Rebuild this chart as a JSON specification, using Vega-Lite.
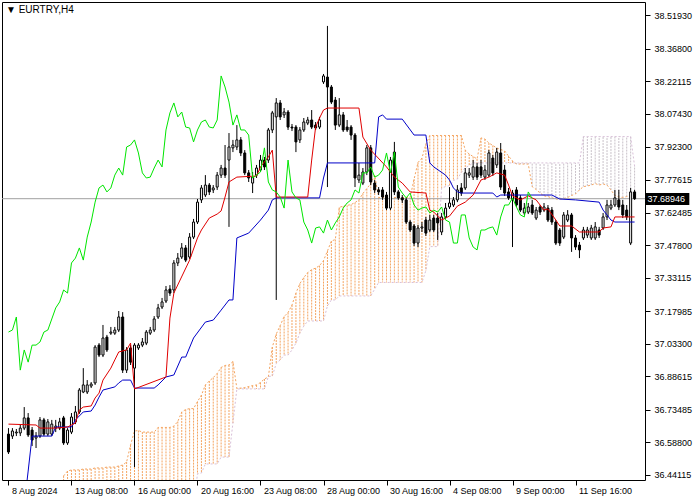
{
"$schema":"https://vega.github.io/schema/vega-lite/v6.json",
"width":643,"height":478,
"autosize":{"type":"none"},
"padding":{"left":2,"top":2,"right":55,"bottom":20},
"background":"white",
"config":{"view":{"stroke":"black","strokeWidth":1},"axis":{"labelFont":"Liberation Sans","labelFontSize":9,"labelColor":"black","tickColor":"black","grid":false,"domain":false}},
"title":{"text":"▼ EURTRY,H4","anchor":"start","frame":"group","orient":"top","offset":-13,"dx":4,"font":"Liberation Sans","fontSize":10,"fontWeight":"normal","color":"black"},
"resolve":{"axis":{"x":"independent","y":"independent"}},
"datasets":{
"bars":[
{"i":0,"o":36.626,"h":36.653,"l":36.536,"c":36.545},
{"i":1,"o":36.617,"h":36.653,"l":36.604,"c":36.640},
{"i":2,"o":36.631,"h":36.649,"l":36.617,"c":36.635},
{"i":3,"o":36.631,"h":36.667,"l":36.617,"c":36.653},
{"i":4,"o":36.653,"h":36.748,"l":36.644,"c":36.699},
{"i":5,"o":36.699,"h":36.721,"l":36.613,"c":36.622},
{"i":6,"o":36.644,"h":36.658,"l":36.572,"c":36.599},
{"i":7,"o":36.608,"h":36.635,"l":36.563,"c":36.617},
{"i":8,"o":36.617,"h":36.703,"l":36.608,"c":36.690},
{"i":9,"o":36.690,"h":36.699,"l":36.617,"c":36.626},
{"i":10,"o":36.626,"h":36.694,"l":36.617,"c":36.681},
{"i":11,"o":36.626,"h":36.690,"l":36.617,"c":36.671},
{"i":12,"o":36.653,"h":36.690,"l":36.635,"c":36.662},
{"i":13,"o":36.653,"h":36.699,"l":36.644,"c":36.681},
{"i":14,"o":36.699,"h":36.708,"l":36.577,"c":36.586},
{"i":15,"o":36.586,"h":36.653,"l":36.577,"c":36.644},
{"i":16,"o":36.635,"h":36.721,"l":36.626,"c":36.703},
{"i":17,"o":36.681,"h":36.753,"l":36.671,"c":36.726},
{"i":18,"o":36.726,"h":36.834,"l":36.717,"c":36.825},
{"i":19,"o":36.816,"h":36.924,"l":36.811,"c":36.848},
{"i":20,"o":36.816,"h":36.870,"l":36.807,"c":36.848},
{"i":21,"o":36.843,"h":36.861,"l":36.834,"c":36.852},
{"i":22,"o":36.857,"h":37.028,"l":36.848,"c":37.019},
{"i":23,"o":37.028,"h":37.037,"l":36.974,"c":36.983},
{"i":24,"o":36.983,"h":37.119,"l":36.974,"c":37.060},
{"i":25,"o":37.064,"h":37.074,"l":36.997,"c":37.006},
{"i":26,"o":37.082,"h":37.110,"l":37.074,"c":37.087},
{"i":27,"o":37.082,"h":37.110,"l":37.074,"c":37.096},
{"i":28,"o":37.096,"h":37.182,"l":37.087,"c":37.155},
{"i":29,"o":37.155,"h":37.177,"l":36.902,"c":36.915},
{"i":30,"o":36.915,"h":37.019,"l":36.902,"c":37.006},
{"i":31,"o":37.015,"h":37.028,"l":36.938,"c":36.951},
{"i":32,"o":36.924,"h":37.037,"l":36.477,"c":37.028},
{"i":33,"o":37.015,"h":37.037,"l":37.006,"c":37.028},
{"i":34,"o":37.028,"h":37.060,"l":37.019,"c":37.042},
{"i":35,"o":37.037,"h":37.096,"l":37.028,"c":37.087},
{"i":36,"o":37.082,"h":37.110,"l":37.074,"c":37.096},
{"i":37,"o":37.096,"h":37.159,"l":37.087,"c":37.146},
{"i":38,"o":37.155,"h":37.214,"l":37.146,"c":37.196},
{"i":39,"o":37.200,"h":37.241,"l":37.191,"c":37.223},
{"i":40,"o":37.227,"h":37.295,"l":37.218,"c":37.277},
{"i":41,"o":37.281,"h":37.299,"l":37.250,"c":37.263},
{"i":42,"o":37.277,"h":37.412,"l":37.263,"c":37.399},
{"i":43,"o":37.399,"h":37.444,"l":37.385,"c":37.421},
{"i":44,"o":37.426,"h":37.489,"l":37.417,"c":37.467},
{"i":45,"o":37.467,"h":37.480,"l":37.403,"c":37.412},
{"i":46,"o":37.426,"h":37.534,"l":37.417,"c":37.516},
{"i":47,"o":37.516,"h":37.598,"l":37.507,"c":37.584},
{"i":48,"o":37.584,"h":37.688,"l":37.575,"c":37.674},
{"i":49,"o":37.684,"h":37.751,"l":37.670,"c":37.738},
{"i":50,"o":37.706,"h":37.796,"l":37.697,"c":37.751},
{"i":51,"o":37.751,"h":37.760,"l":37.706,"c":37.720},
{"i":52,"o":37.729,"h":37.751,"l":37.715,"c":37.738},
{"i":53,"o":37.742,"h":37.810,"l":37.729,"c":37.796},
{"i":54,"o":37.796,"h":37.842,"l":37.783,"c":37.828},
{"i":55,"o":37.828,"h":37.932,"l":37.783,"c":37.796},
{"i":56,"o":37.864,"h":37.986,"l":37.562,"c":37.923},
{"i":57,"o":37.919,"h":37.955,"l":37.900,"c":37.932},
{"i":58,"o":37.923,"h":38.022,"l":37.909,"c":37.955},
{"i":59,"o":37.955,"h":37.968,"l":37.882,"c":37.896},
{"i":60,"o":37.896,"h":37.909,"l":37.796,"c":37.806},
{"i":61,"o":37.806,"h":37.819,"l":37.765,"c":37.783},
{"i":62,"o":37.760,"h":37.810,"l":37.715,"c":37.787},
{"i":63,"o":37.796,"h":37.842,"l":37.783,"c":37.828},
{"i":64,"o":37.819,"h":37.887,"l":37.810,"c":37.864},
{"i":65,"o":37.864,"h":37.878,"l":37.819,"c":37.833},
{"i":66,"o":37.864,"h":38.009,"l":37.851,"c":38.000},
{"i":67,"o":38.000,"h":38.086,"l":37.986,"c":38.077},
{"i":68,"o":38.059,"h":38.144,"l":37.232,"c":38.122},
{"i":69,"o":38.122,"h":38.135,"l":38.045,"c":38.059},
{"i":70,"o":38.068,"h":38.099,"l":38.054,"c":38.081},
{"i":71,"o":38.081,"h":38.090,"l":38.000,"c":38.013},
{"i":72,"o":38.013,"h":38.027,"l":37.995,"c":38.009},
{"i":73,"o":38.013,"h":38.022,"l":37.900,"c":37.946},
{"i":74,"o":37.955,"h":38.013,"l":37.941,"c":38.000},
{"i":75,"o":38.000,"h":38.054,"l":37.991,"c":38.036},
{"i":76,"o":38.031,"h":38.059,"l":38.022,"c":38.045},
{"i":77,"o":38.045,"h":38.090,"l":38.004,"c":38.013},
{"i":78,"o":38.022,"h":38.036,"l":38.000,"c":38.009},
{"i":79,"o":38.013,"h":38.059,"l":38.004,"c":38.045},
{"i":80,"o":38.217,"h":38.253,"l":38.208,"c":38.244},
{"i":81,"o":38.239,"h":38.470,"l":37.742,"c":38.194},
{"i":82,"o":38.194,"h":38.203,"l":38.117,"c":38.126},
{"i":83,"o":38.135,"h":38.149,"l":38.000,"c":38.022},
{"i":84,"o":38.022,"h":38.144,"l":38.013,"c":38.068},
{"i":85,"o":38.068,"h":38.081,"l":37.991,"c":38.000},
{"i":86,"o":38.013,"h":38.045,"l":37.991,"c":38.000},
{"i":87,"o":38.013,"h":38.022,"l":37.955,"c":37.977},
{"i":88,"o":37.977,"h":37.986,"l":37.742,"c":37.783},
{"i":89,"o":37.774,"h":37.851,"l":37.760,"c":37.796},
{"i":90,"o":37.760,"h":37.828,"l":37.751,"c":37.810},
{"i":91,"o":37.810,"h":37.932,"l":37.796,"c":37.919},
{"i":92,"o":37.919,"h":37.932,"l":37.751,"c":37.765},
{"i":93,"o":37.760,"h":37.774,"l":37.715,"c":37.729},
{"i":94,"o":37.729,"h":37.742,"l":37.706,"c":37.720},
{"i":95,"o":37.729,"h":37.742,"l":37.684,"c":37.697},
{"i":96,"o":37.706,"h":37.720,"l":37.638,"c":37.647},
{"i":97,"o":37.647,"h":37.878,"l":37.638,"c":37.864},
{"i":98,"o":37.900,"h":37.946,"l":37.706,"c":37.720},
{"i":99,"o":37.720,"h":37.729,"l":37.684,"c":37.693},
{"i":100,"o":37.693,"h":37.706,"l":37.670,"c":37.684},
{"i":101,"o":37.684,"h":37.693,"l":37.575,"c":37.584},
{"i":102,"o":37.584,"h":37.593,"l":37.539,"c":37.548},
{"i":103,"o":37.566,"h":37.575,"l":37.476,"c":37.489},
{"i":104,"o":37.489,"h":37.571,"l":37.471,"c":37.557},
{"i":105,"o":37.557,"h":37.584,"l":37.539,"c":37.562},
{"i":106,"o":37.593,"h":37.607,"l":37.521,"c":37.534},
{"i":107,"o":37.548,"h":37.616,"l":37.539,"c":37.593},
{"i":108,"o":37.602,"h":37.616,"l":37.539,"c":37.548},
{"i":109,"o":37.602,"h":37.625,"l":37.503,"c":37.580},
{"i":110,"o":37.539,"h":37.625,"l":37.525,"c":37.607},
{"i":111,"o":37.607,"h":37.670,"l":37.598,"c":37.647},
{"i":112,"o":37.652,"h":37.742,"l":37.643,"c":37.670},
{"i":113,"o":37.661,"h":37.697,"l":37.652,"c":37.684},
{"i":114,"o":37.684,"h":37.751,"l":37.674,"c":37.729},
{"i":115,"o":37.738,"h":37.760,"l":37.702,"c":37.715},
{"i":116,"o":37.738,"h":37.828,"l":37.729,"c":37.806},
{"i":117,"o":37.796,"h":37.828,"l":37.783,"c":37.806},
{"i":118,"o":37.787,"h":37.864,"l":37.774,"c":37.833},
{"i":119,"o":37.833,"h":37.851,"l":37.774,"c":37.787},
{"i":120,"o":37.833,"h":37.864,"l":37.783,"c":37.796},
{"i":121,"o":37.787,"h":37.842,"l":37.774,"c":37.819},
{"i":122,"o":37.796,"h":37.909,"l":37.787,"c":37.896},
{"i":123,"o":37.873,"h":37.887,"l":37.792,"c":37.806},
{"i":124,"o":37.842,"h":37.919,"l":37.828,"c":37.900},
{"i":125,"o":37.896,"h":37.941,"l":37.729,"c":37.742},
{"i":126,"o":37.819,"h":37.842,"l":37.702,"c":37.715},
{"i":127,"o":37.720,"h":37.738,"l":37.684,"c":37.693},
{"i":128,"o":37.684,"h":37.729,"l":37.471,"c":37.715},
{"i":129,"o":37.729,"h":37.742,"l":37.652,"c":37.661},
{"i":130,"o":37.693,"h":37.706,"l":37.629,"c":37.638},
{"i":131,"o":37.625,"h":37.670,"l":37.616,"c":37.647},
{"i":132,"o":37.629,"h":37.670,"l":37.620,"c":37.652},
{"i":133,"o":37.661,"h":37.684,"l":37.616,"c":37.625},
{"i":134,"o":37.602,"h":37.652,"l":37.593,"c":37.638},
{"i":135,"o":37.652,"h":37.661,"l":37.616,"c":37.629},
{"i":136,"o":37.638,"h":37.670,"l":37.629,"c":37.652},
{"i":137,"o":37.647,"h":37.661,"l":37.584,"c":37.593},
{"i":138,"o":37.638,"h":37.652,"l":37.571,"c":37.584},
{"i":139,"o":37.584,"h":37.593,"l":37.480,"c":37.489},
{"i":140,"o":37.548,"h":37.557,"l":37.476,"c":37.489},
{"i":141,"o":37.516,"h":37.629,"l":37.507,"c":37.616},
{"i":142,"o":37.593,"h":37.638,"l":37.584,"c":37.616},
{"i":143,"o":37.616,"h":37.625,"l":37.449,"c":37.512},
{"i":144,"o":37.512,"h":37.525,"l":37.458,"c":37.471},
{"i":145,"o":37.480,"h":37.494,"l":37.421,"c":37.458},
{"i":146,"o":37.512,"h":37.562,"l":37.503,"c":37.548},
{"i":147,"o":37.525,"h":37.562,"l":37.512,"c":37.548},
{"i":148,"o":37.512,"h":37.571,"l":37.503,"c":37.557},
{"i":149,"o":37.512,"h":37.584,"l":37.503,"c":37.562},
{"i":150,"o":37.548,"h":37.562,"l":37.512,"c":37.525},
{"i":151,"o":37.557,"h":37.625,"l":37.548,"c":37.607},
{"i":152,"o":37.607,"h":37.684,"l":37.593,"c":37.661},
{"i":153,"o":37.647,"h":37.684,"l":37.638,"c":37.661},
{"i":154,"o":37.661,"h":37.729,"l":37.652,"c":37.693},
{"i":155,"o":37.684,"h":37.729,"l":37.638,"c":37.652},
{"i":156,"o":37.661,"h":37.684,"l":37.602,"c":37.616},
{"i":157,"o":37.638,"h":37.661,"l":37.593,"c":37.607},
{"i":158,"o":37.489,"h":37.738,"l":37.480,"c":37.720},
{"i":159,"o":37.720,"h":37.729,"l":37.684,"c":37.68946}
],
"tk":[{"i":0,"v":36.671},{"i":7,"v":36.667},{"i":8,"v":36.653},{"i":12,"v":36.653},{"i":15,"v":36.658},{"i":17,"v":36.676},{"i":18,"v":36.735},{"i":19,"v":36.748},{"i":21,"v":36.753},{"i":22,"v":36.789},{"i":23,"v":36.811},{"i":24,"v":36.870},{"i":26,"v":36.924},{"i":27,"v":36.961},{"i":28,"v":36.997},{"i":30,"v":37.006},{"i":31,"v":37.037},{"i":32,"v":36.830},{"i":40,"v":36.884},{"i":41,"v":37.150},{"i":42,"v":37.263},{"i":46,"v":37.412},{"i":48,"v":37.512},{"i":49,"v":37.548},{"i":51,"v":37.602},{"i":53,"v":37.620},{"i":54,"v":37.634},{"i":55,"v":37.697},{"i":56,"v":37.765},{"i":58,"v":37.787},{"i":63,"v":37.792},{"i":64,"v":37.833},{"i":66,"v":37.878},{"i":67,"v":37.909},{"i":68,"v":37.697},{"i":76,"v":37.697},{"i":77,"v":37.864},{"i":78,"v":38.013},{"i":79,"v":38.054},{"i":80,"v":38.090},{"i":81,"v":38.099},{"i":89,"v":38.099},{"i":90,"v":37.968},{"i":92,"v":37.909},{"i":96,"v":37.833},{"i":98,"v":37.787},{"i":100,"v":37.760},{"i":102,"v":37.720},{"i":106,"v":37.715},{"i":107,"v":37.638},{"i":108,"v":37.629},{"i":110,"v":37.593},{"i":112,"v":37.611},{"i":114,"v":37.656},{"i":116,"v":37.674},{"i":118,"v":37.706},{"i":120,"v":37.774},{"i":122,"v":37.787},{"i":124,"v":37.806},{"i":126,"v":37.796},{"i":127,"v":37.751},{"i":128,"v":37.702},{"i":130,"v":37.684},{"i":132,"v":37.702},{"i":134,"v":37.684},{"i":136,"v":37.638},{"i":137,"v":37.643},{"i":139,"v":37.593},{"i":140,"v":37.566},{"i":143,"v":37.566},{"i":145,"v":37.539},{"i":150,"v":37.539},{"i":151,"v":37.557},{"i":153,"v":37.562},{"i":154,"v":37.607},{"i":159,"v":37.607}],
"kj":[{"i":0,"v":36.283},{"i":3,"v":36.283},{"i":4,"v":36.305},{"i":5,"v":36.459},{"i":6,"v":36.617},{"i":11,"v":36.617},{"i":12,"v":36.658},{"i":16,"v":36.658},{"i":17,"v":36.690},{"i":19,"v":36.726},{"i":21,"v":36.730},{"i":22,"v":36.757},{"i":23,"v":36.793},{"i":24,"v":36.825},{"i":27,"v":36.839},{"i":28,"v":36.857},{"i":29,"v":36.870},{"i":31,"v":36.870},{"i":32,"v":36.834},{"i":37,"v":36.834},{"i":38,"v":36.848},{"i":40,"v":36.884},{"i":42,"v":36.893},{"i":44,"v":36.974},{"i":45,"v":36.974},{"i":47,"v":37.060},{"i":50,"v":37.132},{"i":52,"v":37.141},{"i":54,"v":37.186},{"i":56,"v":37.232},{"i":57,"v":37.232},{"i":58,"v":37.512},{"i":61,"v":37.534},{"i":64,"v":37.593},{"i":66,"v":37.638},{"i":67,"v":37.684},{"i":68,"v":37.693},{"i":79,"v":37.693},{"i":80,"v":37.783},{"i":81,"v":37.851},{"i":93,"v":37.851},{"i":94,"v":38.059},{"i":95,"v":38.068},{"i":96,"v":38.049},{"i":100,"v":38.049},{"i":103,"v":37.977},{"i":106,"v":37.977},{"i":107,"v":37.851},{"i":108,"v":37.833},{"i":111,"v":37.796},{"i":112,"v":37.774},{"i":113,"v":37.738},{"i":114,"v":37.720},{"i":115,"v":37.715},{"i":123,"v":37.715},{"i":124,"v":37.697},{"i":125,"v":37.706},{"i":138,"v":37.706},{"i":140,"v":37.688},{"i":144,"v":37.684},{"i":150,"v":37.674},{"i":151,"v":37.638},{"i":152,"v":37.616},{"i":153,"v":37.593},{"i":154,"v":37.584},{"i":159,"v":37.584}],
"ch":[{"i":0,"v":37.087},{"i":1,"v":37.096},{"i":2,"v":37.155},{"i":3,"v":36.915},{"i":4,"v":37.006},{"i":5,"v":36.951},{"i":6,"v":37.028},{"i":7,"v":37.028},{"i":8,"v":37.042},{"i":9,"v":37.087},{"i":10,"v":37.096},{"i":11,"v":37.146},{"i":12,"v":37.196},{"i":13,"v":37.223},{"i":14,"v":37.277},{"i":15,"v":37.263},{"i":16,"v":37.399},{"i":17,"v":37.421},{"i":18,"v":37.467},{"i":19,"v":37.412},{"i":20,"v":37.516},{"i":21,"v":37.584},{"i":22,"v":37.674},{"i":23,"v":37.738},{"i":24,"v":37.751},{"i":25,"v":37.720},{"i":26,"v":37.738},{"i":27,"v":37.796},{"i":28,"v":37.828},{"i":29,"v":37.796},{"i":30,"v":37.923},{"i":31,"v":37.932},{"i":32,"v":37.955},{"i":33,"v":37.896},{"i":34,"v":37.806},{"i":35,"v":37.783},{"i":36,"v":37.787},{"i":37,"v":37.828},{"i":38,"v":37.864},{"i":39,"v":37.833},{"i":40,"v":38.000},{"i":41,"v":38.077},{"i":42,"v":38.122},{"i":43,"v":38.059},{"i":44,"v":38.081},{"i":45,"v":38.013},{"i":46,"v":38.009},{"i":47,"v":37.946},{"i":48,"v":38.000},{"i":49,"v":38.036},{"i":50,"v":38.045},{"i":51,"v":38.013},{"i":52,"v":38.009},{"i":53,"v":38.045},{"i":54,"v":38.244},{"i":55,"v":38.194},{"i":56,"v":38.126},{"i":57,"v":38.022},{"i":58,"v":38.068},{"i":59,"v":38.000},{"i":60,"v":38.000},{"i":61,"v":37.977},{"i":62,"v":37.783},{"i":63,"v":37.796},{"i":64,"v":37.810},{"i":65,"v":37.919},{"i":66,"v":37.765},{"i":67,"v":37.729},{"i":68,"v":37.720},{"i":69,"v":37.697},{"i":70,"v":37.647},{"i":71,"v":37.864},{"i":72,"v":37.720},{"i":73,"v":37.693},{"i":74,"v":37.684},{"i":75,"v":37.584},{"i":76,"v":37.548},{"i":77,"v":37.489},{"i":78,"v":37.557},{"i":79,"v":37.562},{"i":80,"v":37.534},{"i":81,"v":37.593},{"i":82,"v":37.548},{"i":83,"v":37.580},{"i":84,"v":37.607},{"i":85,"v":37.647},{"i":86,"v":37.670},{"i":87,"v":37.684},{"i":88,"v":37.729},{"i":89,"v":37.715},{"i":90,"v":37.806},{"i":91,"v":37.806},{"i":92,"v":37.833},{"i":93,"v":37.787},{"i":94,"v":37.796},{"i":95,"v":37.819},{"i":96,"v":37.896},{"i":97,"v":37.806},{"i":98,"v":37.900},{"i":99,"v":37.742},{"i":100,"v":37.715},{"i":101,"v":37.693},{"i":102,"v":37.715},{"i":103,"v":37.661},{"i":104,"v":37.638},{"i":105,"v":37.647},{"i":106,"v":37.652},{"i":107,"v":37.625},{"i":108,"v":37.638},{"i":109,"v":37.629},{"i":110,"v":37.652},{"i":111,"v":37.593},{"i":112,"v":37.584},{"i":113,"v":37.489},{"i":114,"v":37.489},{"i":115,"v":37.616},{"i":116,"v":37.616},{"i":117,"v":37.512},{"i":118,"v":37.471},{"i":119,"v":37.458},{"i":120,"v":37.548},{"i":121,"v":37.548},{"i":122,"v":37.557},{"i":123,"v":37.562},{"i":124,"v":37.525},{"i":125,"v":37.607},{"i":126,"v":37.661},{"i":127,"v":37.661},{"i":128,"v":37.693},{"i":129,"v":37.652},{"i":130,"v":37.616},{"i":131,"v":37.607},{"i":132,"v":37.720},{"i":133,"v":37.68946}],
"cloud":[
{"i":14,"a":36.437,"b":36.238},{"i":15,"a":36.459,"b":36.238},{"i":16,"a":36.464,"b":36.238},{"i":17,"a":36.464,"b":36.238},{"i":18,"a":36.464,"b":36.238},{"i":19,"a":36.468,"b":36.238},{"i":20,"a":36.468,"b":36.238},{"i":21,"a":36.468,"b":36.238},{"i":22,"a":36.473,"b":36.238},{"i":23,"a":36.473,"b":36.238},{"i":24,"a":36.473,"b":36.238},{"i":25,"a":36.477,"b":36.238},{"i":26,"a":36.477,"b":36.238},{"i":27,"a":36.477,"b":36.238},{"i":28,"a":36.482,"b":36.238},{"i":29,"a":36.486,"b":36.238},{"i":30,"a":36.500,"b":36.238},{"i":31,"a":36.577,"b":36.238},{"i":32,"a":36.640,"b":36.238},{"i":33,"a":36.642,"b":36.238},{"i":34,"a":36.635,"b":36.238},{"i":35,"a":36.635,"b":36.238},{"i":36,"a":36.635,"b":36.238},{"i":37,"a":36.635,"b":36.238},{"i":38,"a":36.656,"b":36.238},{"i":39,"a":36.656,"b":36.238},{"i":40,"a":36.656,"b":36.238},{"i":41,"a":36.656,"b":36.238},{"i":42,"a":36.662,"b":36.238},{"i":43,"a":36.683,"b":36.238},{"i":44,"a":36.726,"b":36.238},{"i":45,"a":36.737,"b":36.238},{"i":46,"a":36.741,"b":36.238},{"i":47,"a":36.741,"b":36.300},{"i":48,"a":36.773,"b":36.446},{"i":49,"a":36.802,"b":36.450},{"i":50,"a":36.848,"b":36.491},{"i":51,"a":36.866,"b":36.491},{"i":52,"a":36.881,"b":36.491},{"i":53,"a":36.900,"b":36.491},{"i":54,"a":36.927,"b":36.522},{"i":55,"a":36.936,"b":36.522},{"i":56,"a":36.938,"b":36.522},{"i":57,"a":36.954,"b":36.676},{"i":58,"a":36.832,"b":36.830},{"i":59,"a":36.834,"b":36.830},{"i":60,"a":36.836,"b":36.830},{"i":61,"a":36.841,"b":36.830},{"i":62,"a":36.845,"b":36.830},{"i":63,"a":36.848,"b":36.830},{"i":64,"a":36.859,"b":36.830},{"i":65,"a":36.875,"b":36.830},{"i":66,"a":36.884,"b":36.886},{"i":67,"a":37.019,"b":36.888},{"i":68,"a":37.078,"b":36.945},{"i":69,"a":37.116,"b":36.961},{"i":70,"a":37.157,"b":36.983},{"i":71,"a":37.175,"b":36.983},{"i":72,"a":37.209,"b":37.006},{"i":73,"a":37.263,"b":37.037},{"i":74,"a":37.306,"b":37.082},{"i":75,"a":37.333,"b":37.114},{"i":76,"a":37.356,"b":37.137},
{"i":77,"a":37.369,"b":37.137},{"i":78,"a":37.376,"b":37.137},{"i":79,"a":37.387,"b":37.137},{"i":80,"a":37.410,"b":37.137},{"i":81,"a":37.453,"b":37.205},{"i":82,"a":37.498,"b":37.232},{"i":83,"a":37.505,"b":37.232},{"i":84,"a":37.650,"b":37.250},{"i":85,"a":37.656,"b":37.250},{"i":86,"a":37.659,"b":37.250},{"i":87,"a":37.663,"b":37.250},{"i":88,"a":37.672,"b":37.250},{"i":89,"a":37.684,"b":37.250},{"i":90,"a":37.713,"b":37.250},{"i":91,"a":37.735,"b":37.250},{"i":92,"a":37.758,"b":37.250},{"i":93,"a":37.796,"b":37.281},{"i":94,"a":37.695,"b":37.311},{"i":95,"a":37.695,"b":37.311},{"i":96,"a":37.695,"b":37.311},{"i":97,"a":37.695,"b":37.311},{"i":98,"a":37.695,"b":37.311},{"i":99,"a":37.695,"b":37.311},{"i":100,"a":37.695,"b":37.311},{"i":101,"a":37.695,"b":37.311},{"i":102,"a":37.695,"b":37.311},{"i":103,"a":37.778,"b":37.311},{"i":104,"a":37.853,"b":37.311},{"i":105,"a":37.873,"b":37.311},{"i":106,"a":37.936,"b":37.365},{"i":107,"a":37.975,"b":37.473},{"i":108,"a":37.975,"b":37.473},{"i":109,"a":37.975,"b":37.473},{"i":110,"a":37.975,"b":37.738},{"i":111,"a":37.975,"b":37.744},{"i":112,"a":37.975,"b":37.749},{"i":113,"a":37.975,"b":37.772},{"i":114,"a":37.975,"b":37.778},{"i":115,"a":37.975,"b":37.808},{"i":116,"a":37.909,"b":37.830},{"i":117,"a":37.891,"b":37.839},{"i":118,"a":37.880,"b":37.851},{"i":119,"a":37.869,"b":37.851},{"i":120,"a":37.964,"b":37.851},{"i":121,"a":37.959,"b":37.851},{"i":122,"a":37.941,"b":37.851},{"i":123,"a":37.930,"b":37.851},{"i":124,"a":37.918,"b":37.851},{"i":125,"a":37.912,"b":37.851},{"i":126,"a":37.905,"b":37.851},{"i":127,"a":37.882,"b":37.851},{"i":128,"a":37.860,"b":37.851},{"i":129,"a":37.846,"b":37.851},{"i":130,"a":37.846,"b":37.851},{"i":131,"a":37.846,"b":37.851},{"i":132,"a":37.846,"b":37.851},{"i":133,"a":37.744,"b":37.851},{"i":134,"a":37.731,"b":37.851},{"i":135,"a":37.715,"b":37.851},{"i":136,"a":37.702,"b":37.851},{"i":137,"a":37.699,"b":37.851},{"i":138,"a":37.693,"b":37.851},{"i":139,"a":37.688,"b":37.851},{"i":140,"a":37.688,"b":37.851},{"i":141,"a":37.690,"b":37.851},{"i":142,"a":37.695,"b":37.851},{"i":143,"a":37.704,"b":37.851},{"i":144,"a":37.711,"b":37.851},{"i":145,"a":37.729,"b":37.851},{"i":146,"a":37.744,"b":37.970},{"i":147,"a":37.747,"b":37.970},{"i":148,"a":37.751,"b":37.970},{"i":149,"a":37.758,"b":37.970},{"i":150,"a":37.751,"b":37.970},{"i":151,"a":37.756,"b":37.970},{"i":152,"a":37.751,"b":37.970},{"i":153,"a":37.729,"b":37.970},{"i":154,"a":37.704,"b":37.970},{"i":155,"a":37.697,"b":37.970},{"i":156,"a":37.695,"b":37.970},{"i":157,"a":37.699,"b":37.970},{"i":158,"a":37.704,"b":37.970},{"i":159,"a":37.699,"b":37.837}]
},
"layer":[
{"data":{"name":"cloud"},"mark":{"type":"rule","strokeDash":[2,1],"strokeWidth":1,"clip":true},
 "encoding":{
  "x":{"field":"i","type":"quantitative","title":null,"scale":{"domain":[-0.375,160.375],"nice":false,"zero":false},
       "axis":{"orient":"bottom","values":[0,16,32,48,64,80,96,112,128,144],"tickSize":5,"labelAlign":"left","labelOffset":3,"labelPadding":1,"labelOverlap":false,"labelFlush":false,"labelBound":false,
       "labelExpr":"datum.value==0?'8 Aug 2024':datum.value==16?'13 Aug 08:00':datum.value==32?'16 Aug 00:00':datum.value==48?'20 Aug 16:00':datum.value==64?'23 Aug 08:00':datum.value==80?'28 Aug 00:00':datum.value==96?'30 Aug 16:00':datum.value==112?'4 Sep 08:00':datum.value==128?'9 Sep 00:00':'11 Sep 16:00'"}},
  "y":{"field":"a","type":"quantitative","title":null,"scale":{"domain":[36.4185,38.5781],"nice":false,"zero":false},
       "axis":{"orient":"right","values":[38.5193,38.368,38.22115,38.0743,37.923,37.77615,37.62485,37.478,37.33115,37.17985,37.033,36.88615,36.73485,36.588,36.44115],"format":".5f","tickSize":5,"labelPadding":4,"labelOverlap":false,"labelFlush":false,"labelBound":false}},
  "y2":{"field":"b"},
  "color":{"condition":{"test":"datum.a > datum.b","value":"#F4A460"},"value":"#C8C0C8"}}},
{"data":{"name":"cloud"},"mark":{"type":"line","color":"#F4A460","strokeWidth":1,"strokeDash":[2,2],"clip":true},
 "encoding":{"x":{"field":"i","type":"quantitative","axis":null,"scale":{"domain":[-0.375,160.375],"nice":false,"zero":false}},
  "y":{"field":"a","type":"quantitative","axis":null,"scale":{"domain":[36.4185,38.5781],"nice":false,"zero":false}}}},
{"data":{"name":"cloud"},"mark":{"type":"line","color":"#D8BFD8","strokeWidth":1,"strokeDash":[2,2],"clip":true},
 "encoding":{"x":{"field":"i","type":"quantitative","axis":null,"scale":{"domain":[-0.375,160.375],"nice":false,"zero":false}},
  "y":{"field":"b","type":"quantitative","axis":null,"scale":{"domain":[36.4185,38.5781],"nice":false,"zero":false}}}},
{"data":{"values":[{}]},"mark":{"type":"rule","color":"#a0a0a0","strokeWidth":1},
 "encoding":{"y":{"datum":37.68946,"type":"quantitative","axis":null,"scale":{"domain":[36.4185,38.5781],"nice":false,"zero":false}}}},
{"data":{"name":"bars"},"mark":{"type":"rule","color":"black","strokeWidth":1,"clip":true},
 "encoding":{"x":{"field":"i","type":"quantitative","axis":null,"scale":{"domain":[-0.375,160.375],"nice":false,"zero":false}},
  "y":{"field":"h","type":"quantitative","axis":null,"scale":{"domain":[36.4185,38.5781],"nice":false,"zero":false}},"y2":{"field":"l"}}},
{"data":{"name":"bars"},"mark":{"type":"bar","size":2,"stroke":"black","strokeWidth":1,"clip":true},
 "encoding":{"x":{"field":"i","type":"quantitative","axis":null,"scale":{"domain":[-0.375,160.375],"nice":false,"zero":false}},
  "y":{"field":"o","type":"quantitative","axis":null,"scale":{"domain":[36.4185,38.5781],"nice":false,"zero":false}},"y2":{"field":"c"},
  "fill":{"condition":{"test":"datum.c >= datum.o","value":"white"},"value":"black"}}},
{"data":{"name":"kj"},"mark":{"type":"line","color":"#0000c8","strokeWidth":1,"clip":true},
 "encoding":{"x":{"field":"i","type":"quantitative","axis":null,"scale":{"domain":[-0.375,160.375],"nice":false,"zero":false}},
  "y":{"field":"v","type":"quantitative","axis":null,"scale":{"domain":[36.4185,38.5781],"nice":false,"zero":false}}}},
{"data":{"name":"tk"},"mark":{"type":"line","color":"#e00000","strokeWidth":1,"clip":true},
 "encoding":{"x":{"field":"i","type":"quantitative","axis":null,"scale":{"domain":[-0.375,160.375],"nice":false,"zero":false}},
  "y":{"field":"v","type":"quantitative","axis":null,"scale":{"domain":[36.4185,38.5781],"nice":false,"zero":false}}}},
{"data":{"name":"ch"},"mark":{"type":"line","color":"#00e600","strokeWidth":1,"clip":true},
 "encoding":{"x":{"field":"i","type":"quantitative","axis":null,"scale":{"domain":[-0.375,160.375],"nice":false,"zero":false}},
  "y":{"field":"v","type":"quantitative","axis":null,"scale":{"domain":[36.4185,38.5781],"nice":false,"zero":false}}}},
{"data":{"values":[{}]},"mark":{"type":"rect","fill":"black","clip":false},
 "encoding":{"x":{"datum":161.9,"type":"quantitative","axis":null,"scale":{"domain":[-0.375,160.375],"nice":false,"zero":false}},"x2":{"datum":172.9},
  "y":{"datum":37.7151,"type":"quantitative","axis":null,"scale":{"domain":[36.4185,38.5781],"nice":false,"zero":false}},"y2":{"datum":37.6609}}},
{"data":{"values":[{"t":"37.68946"}]},"mark":{"type":"text","color":"white","align":"left","baseline":"middle","font":"Liberation Sans","fontSize":9,"clip":false},
 "encoding":{"x":{"datum":162.3,"type":"quantitative","axis":null,"scale":{"domain":[-0.375,160.375],"nice":false,"zero":false}},
  "y":{"datum":37.68946,"type":"quantitative","axis":null,"scale":{"domain":[36.4185,38.5781],"nice":false,"zero":false}},"text":{"field":"t"}}}
]
}
